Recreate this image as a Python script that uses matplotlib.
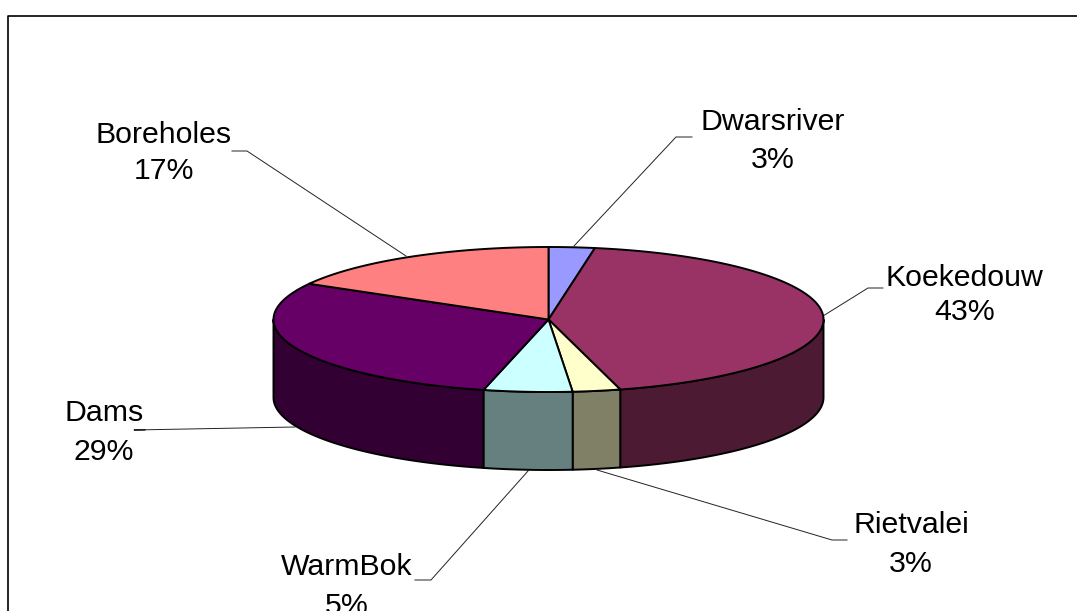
import numpy as np
import matplotlib
matplotlib.use('Agg')
import matplotlib.pyplot as plt

plt.rcParams['font.family'] = ['Liberation Sans', 'DejaVu Sans']

# DATA (clockwise from the top of the pie)
names = ['Dwarsriver', 'Koekedouw', 'Rietvalei', 'WarmBok', 'Dams', 'Boreholes']
values = [2.7, 43.1, 2.8, 5.2, 29.4, 16.8]

# STYLE
top_colors = ['#9999FF', '#993366', '#FFFFCC', '#CCFFFF', '#660066', '#FF8080']
side_colors = ['#4D4D80', '#4D1A33', '#808066', '#668080', '#330033', '#804040']

# label centres and baselines (name line, percent line), in pixels
label_x = [773, 964.5, 911, 346.5, 104, 163.5]
name_y = [130, 286, 533, 575, 421, 143]
pct_y = [168, 320, 572, 614, 460, 179]
leaders = [
    [(692, 137), (676, 137), (574, 246)],
    [(883, 288), (868, 288), (823, 316)],
    [(847, 540), (832, 540), (597, 470)],
    [(415, 580), (431, 580), (528, 471)],
    [(145, 430), (134, 430), (295, 427)],
    [(232, 151), (247, 151), (406, 256)],
]

# pie geometry, in pixels
cx, cy = 548.5, 319.5
rx, ry = 275, 72.5
depth = 78


def rim(t):
    # t in degrees, clockwise from the top of the ellipse
    r = np.radians(t)
    return cx + rx * np.sin(r), cy - ry * np.cos(r)


fig = plt.figure(figsize=(10.77, 6.11), dpi=100)
ax = fig.add_axes([0, 0, 1, 1])
ax.set_xlim(0, 1077)
ax.set_ylim(611, 0)
ax.axis('off')

# frame: only top and left show, the rest is cut off
ax.plot([7.5, 7.5, 1077], [611, 15.5, 15.5], color='black', lw=1.2, zorder=1)

for pts in leaders:
    xs, ys = zip(*pts)
    ax.plot(xs, ys, color='#222222', lw=0.7, zorder=1)

edges = np.cumsum([0] + values) / sum(values) * 360

# side walls, only the front half of the pie shows
for i, c in enumerate(side_colors):
    a, b = max(edges[i], 90), min(edges[i + 1], 270)
    if b <= a:
        continue
    x, y = rim(np.linspace(a, b, 120))
    ax.fill(np.r_[x, x[::-1]], np.r_[y, y[::-1] + depth], facecolor=c,
            edgecolor='black', lw=1.4, joinstyle='round', zorder=2)

# top face
for i, c in enumerate(top_colors):
    x, y = rim(np.linspace(edges[i], edges[i + 1], 200))
    ax.fill(np.r_[cx, x], np.r_[cy, y], facecolor=c,
            edgecolor='black', lw=1.4, joinstyle='round', zorder=3)

for name, v, lx, y1, y2 in zip(names, values, label_x, name_y, pct_y):
    ax.text(lx, y1, name, ha='center', va='baseline', fontsize=21.8, color='black', zorder=4)
    ax.text(lx, y2, f'{v:.0f}%', ha='center', va='baseline', fontsize=21.8, color='black', zorder=4)

fig.savefig('out.png', dpi=100, facecolor='white')
